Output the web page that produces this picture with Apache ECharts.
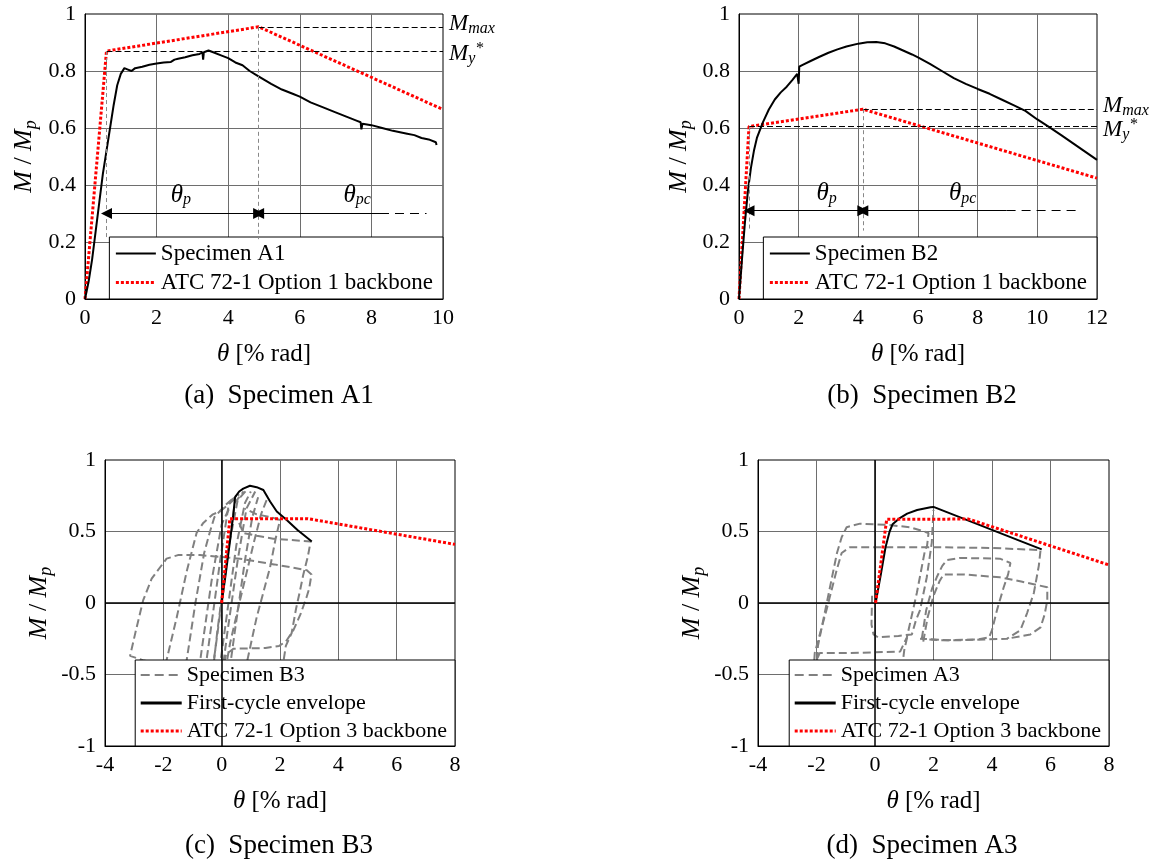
<!DOCTYPE html>
<html>
<head>
<meta charset="utf-8">
<script src="https://cdn.jsdelivr.net/npm/echarts@6/dist/echarts.min.js"></script>
<style>
  html, body { margin: 0; background: #fff; }
  #chart { width: 1155px; height: 867px; }
</style>
</head>
<body>
<div id="chart"></div>
<script>
// ---- data: [theta (% rad), M / Mp] ----
const specimenA1 = [[0,0],[0.1,0.06],[0.2,0.14],[0.3,0.24],[0.4,0.34],[0.5,0.44],[0.6,0.52],[0.7,0.6],[0.8,0.68],[0.9,0.75],
  [1.0,0.79],[1.1,0.81],[1.15,0.815],[1.2,0.805],[1.3,0.8],[1.4,0.81],[1.6,0.815],[1.8,0.822],[2.0,0.826],[2.2,0.83],
  [2.4,0.832],[2.5,0.84],[2.6,0.843],[2.8,0.848],[3.0,0.855],[3.2,0.86],[3.28,0.865],[3.3,0.84],[3.32,0.866],[3.45,0.872],
  [3.6,0.865],[3.8,0.855],[4.0,0.845],[4.2,0.83],[4.4,0.82],[4.6,0.8],[4.8,0.785],[5.0,0.77],[5.2,0.755],[5.5,0.735],
  [5.8,0.72],[6.0,0.71],[6.3,0.69],[6.6,0.675],[7.0,0.655],[7.3,0.64],[7.6,0.625],[7.7,0.62],[7.72,0.595],[7.75,0.615],
  [8.0,0.61],[8.3,0.6],[8.6,0.59],[9.0,0.58],[9.2,0.575],[9.4,0.565],[9.6,0.56],[9.8,0.55],[9.82,0.54]];
const backboneA1 = [[0,0],[0.6,0.87],[4.85,0.955],[10,0.665]];
// theta_y, theta_max, My*, Mmax, arrow level, solid arrow end, dash end, bottom of guides
const marksA1 = [0.6, 4.85, 0.87, 0.955, 0.3, 8.24, 9.54, 0.21];

const specimenB2 = [[0,0],[0.1,0.14],[0.2,0.27],[0.3,0.38],[0.4,0.46],[0.5,0.52],[0.6,0.565],[0.8,0.62],[1.0,0.665],[1.2,0.7],
  [1.4,0.725],[1.6,0.745],[1.8,0.77],[1.95,0.79],[2.0,0.755],[2.02,0.815],[2.1,0.82],[2.4,0.835],[2.7,0.85],[3.0,0.864],
  [3.3,0.876],[3.6,0.886],[4.0,0.896],[4.3,0.901],[4.6,0.902],[4.9,0.897],[5.2,0.886],[5.5,0.872],[5.8,0.858],[6.0,0.848],
  [6.4,0.825],[6.8,0.8],[7.2,0.775],[7.6,0.755],[8.0,0.737],[8.4,0.72],[8.8,0.7],[9.2,0.68],[9.6,0.66],[10.0,0.63],
  [10.4,0.603],[10.8,0.575],[11.2,0.546],[11.6,0.517],[12.0,0.488]];
const backboneB2 = [[0,0],[0.335,0.605],[4.15,0.666],[12,0.424]];
const marksB2 = [0.335, 4.15, 0.605, 0.666, 0.31, 8.97, 11.43, 0.24];

// (c) Specimen B3 cycles
const b3LoopA = [[-1.0,-0.52],[-2.0,-0.43],[-2.7,-0.4],[-3.14,-0.37],[-2.95,-0.2],[-2.69,0.02],[-2.4,0.17],[-2.11,0.25],[-1.89,0.31],
  [-1.5,0.335],[-0.74,0.335],[0.63,0.31],[1.8,0.27],[2.91,0.23],[3.08,0.2],[3.0,0.1],[2.91,0.04],[2.7,-0.08],[2.46,-0.19],
  [2.2,-0.27],[1.97,-0.3],[1.5,-0.315],[0.4,-0.32],[0.15,-0.36],[0.0,-0.5]];
const b3LoopB = [[0.6,0.56],[0.74,0.49],[1.2,0.47],[1.77,0.45],[2.4,0.44],[3.05,0.43],[2.95,0.32],[2.8,0.2],[2.69,0.09],
  [2.55,-0.04],[2.4,-0.21],[2.2,-0.3],[2.05,-0.5]];
const b3LoopC = [[-2.0,-0.6],[-1.89,-0.4],[-1.54,-0.1],[-1.2,0.22],[-0.86,0.49],[-0.63,0.56],[-0.3,0.62],[-0.06,0.64],[0.3,0.7],[0.6,0.76]];
const b3LoopD = [[-1.35,-0.6],[-1.2,-0.4],[-0.9,0.0],[-0.6,0.35],[-0.4,0.5],[-0.25,0.6],[0.1,0.68],[0.5,0.75]];
const b3LoopE = [[1.54,0.72],[1.35,0.62],[1.1,0.42],[0.63,0.02],[0.29,-0.28],[0.1,-0.5],[-0.05,-0.7]];
const b3LoopF = [[0.7,-0.65],[0.86,-0.42],[1.2,-0.1],[1.66,0.25],[1.85,0.45],[2.0,0.58],[1.7,0.6],[1.2,0.62],[0.8,0.66]];
const b3LoopG = [[-0.55,-0.8],[-0.2,-0.3],[0.15,0.25],[0.45,0.7],[0.75,0.78]];
const b3LoopH = [[-0.8,-0.8],[-0.45,-0.3],[-0.05,0.3],[0.25,0.7],[0.5,0.75]];
const b3LoopI = [[-0.3,-0.8],[0.1,-0.2],[0.5,0.4],[0.8,0.7],[1.0,0.78]];
const b3LoopJ = [[0.05,-0.8],[0.45,-0.2],[0.8,0.3],[1.05,0.6],[1.25,0.74]];
const b3LoopK = [[-1.0,-0.8],[-0.7,-0.35],[-0.35,0.15],[0.0,0.55],[0.3,0.68]];
const b3LoopL = [[-0.45,-0.75],[-0.15,-0.2],[0.2,0.35],[0.55,0.72],[0.9,0.8]];
const b3LoopM = [[-0.15,-0.75],[0.2,-0.2],[0.55,0.3],[0.85,0.66],[1.15,0.78]];
const envelopeB3 = [[0,0],[0.15,0.22],[0.29,0.44],[0.4,0.62],[0.46,0.74],[0.6,0.78],[0.74,0.8],[0.97,0.82],[1.2,0.81],
  [1.43,0.79],[1.66,0.71],[1.89,0.64],[2.23,0.58],[2.6,0.51],[3.09,0.43]];
const backboneB3 = [[0,0],[0.28,0.59],[2.95,0.59],[8,0.41]];

// (d) Specimen A3 cycles
const a3LoopA = [[-2.15,-0.65],[-2.06,-0.35],[-1.66,-0.05],[-1.31,0.23],[-1.14,0.35],[-0.86,0.39],[0.5,0.39],[2.0,0.39],[4.0,0.385],
  [5.66,0.37],[5.6,0.26],[5.43,0.07],[5.2,-0.07],[4.97,-0.19],[4.51,-0.25],[3.0,-0.26],[2.23,-0.26],[1.54,-0.25]];
const a3LoopB = [[-2.05,-0.65],[-1.95,-0.3],[-1.6,0.05],[-1.3,0.35],[-1.14,0.46],[-0.97,0.53],[-0.51,0.555],[0.5,0.545],[1.2,0.53],
  [1.83,0.49],[1.78,0.4],[1.71,0.37],[1.43,0.07],[1.09,-0.24],[0.86,-0.34],[0,-0.345],[-1.0,-0.35],[-1.89,-0.35],[-2.0,-0.4],[-2.1,-0.6]];
const a3LoopC = [[-0.1,0.05],[-0.12,-0.15],[-0.05,-0.22],[0.1,-0.24],[0.8,-0.23],[1.26,-0.22],[1.4,-0.12],[1.54,-0.05],[1.77,0.18],[1.94,0.42],[2.0,0.65]];
const a3LoopD = [[1.6,-0.25],[1.75,-0.05],[1.95,0.1],[2.11,0.18],[2.3,0.26],[2.46,0.3],[2.9,0.315],[4.27,0.31],[4.63,0.28],[4.55,0.2],
  [4.4,0.11],[4.17,-0.05],[4.0,-0.19],[3.9,-0.24],[3.5,-0.255],[2.5,-0.26],[1.6,-0.25]];
const a3LoopE = [[1.65,-0.27],[1.8,-0.1],[2.0,0.05],[2.2,0.15],[2.34,0.2],[3.0,0.2],[4.27,0.18],[5.0,0.15],[5.89,0.11],[5.89,0.02],
  [5.8,-0.08],[5.66,-0.17],[5.31,-0.22],[4.51,-0.25]];
const a3LoopF = [[1.1,-0.24],[1.0,-0.33],[0.9,-0.5]];
const envelopeA3 = [[0.02,0],[0.2,0.2],[0.36,0.39],[0.5,0.5],[0.6,0.55],[0.82,0.59],[1.1,0.625],[1.44,0.65],[1.9,0.67],[2.0,0.672],
  [3.0,0.592],[4.0,0.511],[5.0,0.431],[5.7,0.375]];
const backboneA3 = [[0.02,0],[0.4,0.585],[3.2,0.587],[8,0.266]];

const titles = ['(a)  Specimen A1', '(b)  Specimen B2', '(c)  Specimen B3', '(d)  Specimen A3'];

const FONT = 'Liberation Serif';
const chart = echarts.init(document.getElementById('chart'));

const italic = { fontFamily: FONT, fontStyle: 'italic', color: '#000' };

function xAxisCfg(gi, min, max, interval, nameGap) {
  return {
    type: 'value', gridIndex: gi, min: min, max: max, interval: interval,
    name: '{i|θ} [% rad]', nameLocation: 'middle', nameGap: nameGap,
    nameTextStyle: { fontFamily: FONT, fontSize: 25, color: '#000',
      rich: { i: Object.assign({ fontSize: 25 }, italic) } },
    axisLine: { show: true, onZero: false, lineStyle: { color: '#000', width: 1 } },
    axisTick: { show: false },
    axisLabel: { fontFamily: FONT, fontSize: 22, color: '#000', margin: 8 },
    splitLine: { show: true, showMinLine: false, showMaxLine: false, lineStyle: { color: '#6e6e6e', width: 1 } }
  };
}

function yAxisCfg(gi, min, max, interval, nameGap) {
  return {
    type: 'value', gridIndex: gi, min: min, max: max, interval: interval,
    name: '{i|M} / {i|M}{s|p}', nameLocation: 'middle', nameGap: nameGap,
    nameTextStyle: { fontFamily: FONT, fontSize: 26, color: '#000',
      rich: {
        i: Object.assign({ fontSize: 26 }, italic),
        s: Object.assign({ fontSize: 18, padding: [14, 0, 0, 0], verticalAlign: 'bottom' }, italic)
      } },
    axisLine: { show: true, onZero: false, lineStyle: { color: '#000', width: 1 } },
    axisTick: { show: false },
    axisLabel: { fontFamily: FONT, fontSize: 22, color: '#000', margin: 9 },
    splitLine: { show: true, showMinLine: false, showMaxLine: false, lineStyle: { color: '#6e6e6e', width: 1 } }
  };
}

const blackLine = { color: '#000', width: 2, type: 'solid' };
const redDots = { color: '#ff0000', width: 3, type: [3, 2] };
const grayDash = { color: '#808080', width: 2, type: [8, 4] };

function lineSeries(name, gi, data, style, z) {
  return {
    name: name, type: 'line', xAxisIndex: gi, yAxisIndex: gi, data: data,
    symbol: 'none', showSymbol: false, lineStyle: style, itemStyle: { color: style.color },
    z: z, silent: true, animation: false
  };
}

const symRich = {
  m: Object.assign({ fontSize: 23 }, italic),
  s: Object.assign({ fontSize: 16, padding: [10, 0, 0, 0], verticalAlign: 'bottom' }, italic),
  p: Object.assign({ fontSize: 16, padding: [0, 0, 8, 0], verticalAlign: 'top' }, italic),
  t: Object.assign({ fontSize: 25 }, italic)
};

// dashed guides, arrows and symbols of (a) and (b)
function markSeries(gi, mk, xMax, thP, thPc) {
  const [ty, tm, my, mmax, ay, solidEnd, dashEnd, low] = mk;
  const dash = { color: '#000', width: 1, type: [6, 3] };
  const vdash = { color: '#888', width: 1, type: [4, 3] };
  const arrow = { color: '#000', width: 1.2, type: 'solid' };
  return {
    type: 'line', xAxisIndex: gi, yAxisIndex: gi, data: [], silent: true, animation: false,
    markLine: {
      silent: true, animation: false, symbol: ['none', 'none'], symbolSize: 11,
      label: { show: false },
      data: [
        [{ coord: [tm, mmax], lineStyle: dash,
           label: { show: true, position: 'end', distance: 6, offset: [0, -3], formatter: '{m|M}{s|max}', rich: symRich } },
         { coord: [xMax, mmax] }],
        [{ coord: [ty, my], lineStyle: dash,
           label: { show: true, position: 'end', distance: 6, offset: [0, 3], formatter: '{m|M}{s|y}{p|*}', rich: symRich } },
         { coord: [xMax, my] }],
        [{ coord: [ty, my], lineStyle: vdash }, { coord: [ty, low] }],
        [{ coord: [tm, mmax], lineStyle: vdash }, { coord: [tm, low] }],
        [{ coord: [ty, ay], lineStyle: arrow, itemStyle: { color: '#000' }, symbol: 'triangle' },
         { coord: [tm, ay], symbol: 'triangle' }],
        [{ coord: [tm, ay], lineStyle: arrow, itemStyle: { color: '#000' }, symbol: 'triangle' },
         { coord: [solidEnd, ay], symbol: 'none' }],
        [{ coord: [solidEnd, ay], lineStyle: { color: '#000', width: 1, type: [9, 6] } }, { coord: [dashEnd, ay] }]
      ]
    },
    markPoint: {
      silent: true, animation: false, symbol: 'circle', symbolSize: 0,
      data: [
        { coord: thP, label: { show: true, position: 'inside', formatter: '{t|θ}{s|p}', rich: symRich } },
        { coord: thPc, label: { show: true, position: 'inside', formatter: '{t|θ}{s|pc}', rich: symRich } }
      ]
    }
  };
}

function zeroSeries(gi) {
  return {
    type: 'line', xAxisIndex: gi, yAxisIndex: gi, data: [], silent: true, animation: false, z: 3,
    markLine: {
      silent: true, animation: false, symbol: ['none', 'none'], label: { show: false },
      lineStyle: { color: '#000', width: 1.5, type: 'solid' },
      data: [{ xAxis: 0 }, { yAxis: 0 }]
    }
  };
}

// legend entries with their sample line styles
function legendItem(name, style) {
  return { name: name, lineStyle: { color: style.color, width: style.width, type: style.type } };
}
const legendGray = { color: '#808080', width: 2, type: [9, 5] };

const legendBase = {
  orient: 'vertical', align: 'left', selectedMode: false,
  itemWidth: 40, itemHeight: 14, itemGap: 6,
  itemStyle: { opacity: 0 },
  backgroundColor: '#fff', borderColor: '#000', borderWidth: 1, borderRadius: 0,
  padding: [5, 10, 5, 5],
  textStyle: { fontFamily: FONT, fontSize: 23, color: '#000' }
};

const series = [
  lineSeries('ATC 72-1 Option 1 backbone', 0, backboneA1, redDots, 3),
  lineSeries('Specimen A1', 0, specimenA1, blackLine, 4),
  markSeries(0, marksA1, 10, [2.68, 0.365], [7.6, 0.365]),

  lineSeries('ATC 72-1 Option 1 backbone', 1, backboneB2, redDots, 3),
  lineSeries('Specimen B2', 1, specimenB2, blackLine, 4),
  markSeries(1, marksB2, 12, [2.94, 0.37], [7.5, 0.37])
];

[b3LoopA, b3LoopB, b3LoopC, b3LoopD, b3LoopE, b3LoopF, b3LoopG, b3LoopH, b3LoopI, b3LoopJ, b3LoopK, b3LoopL, b3LoopM].forEach(function (loop) {
  series.push(lineSeries('Specimen B3', 2, loop, grayDash, 2));
});
series.push(zeroSeries(2));
series.push(lineSeries('First-cycle envelope', 2, envelopeB3, blackLine, 4));
series.push(lineSeries('ATC 72-1 Option 3 backbone', 2, backboneB3, redDots, 5));

[a3LoopA, a3LoopB, a3LoopC, a3LoopD, a3LoopE, a3LoopF].forEach(function (loop) {
  series.push(lineSeries('Specimen A3', 3, loop, grayDash, 2));
});
series.push(zeroSeries(3));
series.push(lineSeries('First-cycle envelope', 3, envelopeA3, blackLine, 4));
series.push(lineSeries('ATC 72-1 Option 3 backbone', 3, backboneA3, redDots, 5));

const gridBase = { show: true, borderColor: '#000', borderWidth: 1, backgroundColor: 'transparent', containLabel: false };
const titleFont = '27px "Liberation Serif"';

chart.setOption({
  animation: false,
  backgroundColor: '#fff',
  grid: [
    Object.assign({ left: 85, top: 14, width: 358, height: 285 }, gridBase),
    Object.assign({ left: 739, top: 14, width: 358, height: 285 }, gridBase),
    Object.assign({ left: 105, top: 460, width: 350, height: 286 }, gridBase),
    Object.assign({ left: 758, top: 460, width: 351, height: 286 }, gridBase)
  ],
  xAxis: [
    xAxisCfg(0, 0, 10, 2, 43),
    xAxisCfg(1, 0, 12, 2, 43),
    xAxisCfg(2, -4, 8, 2, 43),
    xAxisCfg(3, -4, 8, 2, 43)
  ],
  yAxis: [
    yAxisCfg(0, 0, 1, 0.2, 45),
    yAxisCfg(1, 0, 1, 0.2, 44),
    yAxisCfg(2, -1, 1, 0.5, 50),
    yAxisCfg(3, -1, 1, 0.5, 50)
  ],
  legend: [
    Object.assign({}, legendBase, { right: 712, bottom: 568,
      data: [legendItem('Specimen A1', blackLine), legendItem('ATC 72-1 Option 1 backbone', redDots)] }),
    Object.assign({}, legendBase, { right: 58, bottom: 568,
      data: [legendItem('Specimen B2', blackLine), legendItem('ATC 72-1 Option 1 backbone', redDots)] }),
    Object.assign({}, legendBase, { right: 700, bottom: 121, itemWidth: 41, padding: [4, 8, 4, 4],
      textStyle: { fontFamily: FONT, fontSize: 22, color: '#000' },
      data: [legendItem('Specimen B3', legendGray), legendItem('First-cycle envelope', { color: '#000', width: 3, type: 'solid' }),
        legendItem('ATC 72-1 Option 3 backbone', redDots)] }),
    Object.assign({}, legendBase, { right: 46, bottom: 121, itemWidth: 41, padding: [4, 8, 4, 4],
      textStyle: { fontFamily: FONT, fontSize: 22, color: '#000' },
      data: [legendItem('Specimen A3', legendGray), legendItem('First-cycle envelope', { color: '#000', width: 3, type: 'solid' }),
        legendItem('ATC 72-1 Option 3 backbone', redDots)] })
  ],
  graphic: [
    { type: 'text', x: 279, y: 396, style: { text: titles[0], font: titleFont, fill: '#000', align: 'center', verticalAlign: 'middle' } },
    { type: 'text', x: 922, y: 396, style: { text: titles[1], font: titleFont, fill: '#000', align: 'center', verticalAlign: 'middle' } },
    { type: 'text', x: 279, y: 846, style: { text: titles[2], font: titleFont, fill: '#000', align: 'center', verticalAlign: 'middle' } },
    { type: 'text', x: 922, y: 846, style: { text: titles[3], font: titleFont, fill: '#000', align: 'center', verticalAlign: 'middle' } }
  ],
  series: series
});

window.addEventListener('resize', () => { chart.resize(); });
</script>
</body>
</html>
